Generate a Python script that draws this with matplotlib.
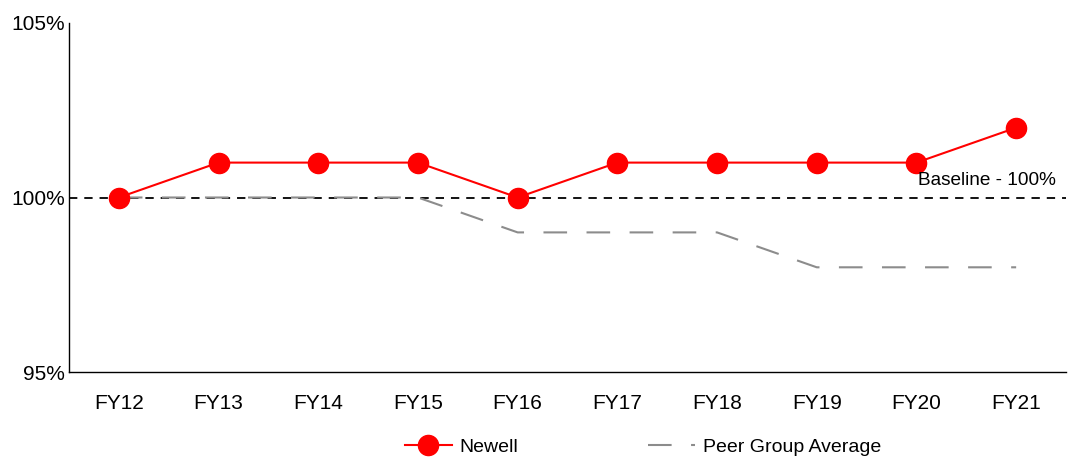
import matplotlib
matplotlib.use("Agg")
import matplotlib.pyplot as plt
from matplotlib.ticker import FuncFormatter

plt.rcParams['font.family'] = ['Liberation Sans', 'DejaVu Sans']
plt.rcParams['lines.scale_dashes'] = False

categories = ["FY12", "FY13", "FY14", "FY15", "FY16", "FY17", "FY18", "FY19", "FY20", "FY21"]
newell = [100, 101, 101, 101, 100, 101, 101, 101, 101, 102]
peer_avg = [100, 100, 100, 100, 99, 99, 99, 98, 98, 98]
baseline = 100
y_ticks = [95, 100, 105]

fig = plt.figure(figsize=(10.77, 4.57), dpi=100)
ax = fig.add_axes([69/1077, 1 - 372/457, (1066 - 69)/1077, (372 - 23)/457])

x = list(range(len(categories)))
ax.axhline(baseline, color='black', lw=1.3, linestyle=(0, (6, 5)), zorder=1)
ax.plot(x, peer_avg, color='#8c8c8c', lw=1.5, linestyle=(0, (17, 14)),
        label='Peer Group Average', zorder=2)
ax.plot(x, newell, color='#ff0000', lw=1.5, marker='o', markersize=14.5,
        label='Newell', zorder=3)

ax.text(9.4, baseline + 0.25, "Baseline - 100%", ha='right', va='bottom', fontsize=13.7)

ax.set_xlim(-0.5, 9.5)
ax.set_ylim(95, 105)
ax.set_xticks(x)
ax.set_xticklabels(categories)
ax.set_yticks(y_ticks)
ax.yaxis.set_major_formatter(FuncFormatter(lambda v, p: f"{v:.0f}%"))
ax.tick_params(axis='both', length=0, labelsize=15)
ax.tick_params(axis='x', pad=16)
ax.tick_params(axis='y', pad=3)
for s in ['top', 'right']:
    ax.spines[s].set_visible(False)
for s in ['left', 'bottom']:
    ax.spines[s].set_linewidth(1.0)
    ax.spines[s].set_color('black')

handles, labels = ax.get_legend_handles_labels()
order = [1, 0]
fig.legend([handles[i] for i in order], [labels[i] for i in order],
           loc='center left', bbox_to_anchor=(405/1077, 1 - 447/457),
           ncol=2, frameon=False, fontsize=14, handlelength=2.4,
           handletextpad=0.4, columnspacing=6.7, borderpad=0, borderaxespad=0)

fig.savefig("out.png", dpi=100)
